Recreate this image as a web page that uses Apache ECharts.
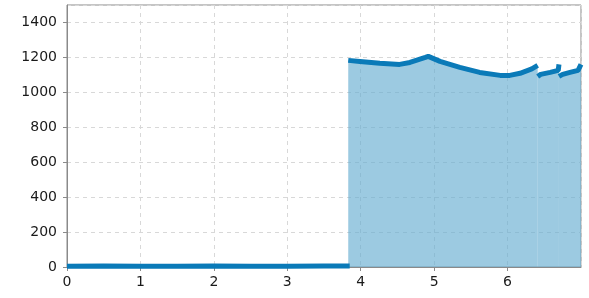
<!DOCTYPE html>
<html>
<head>
<meta charset="utf-8">
<script src="https://cdn.jsdelivr.net/npm/echarts@6/dist/echarts.min.js"></script>
<style>
  html, body { margin: 0; padding: 0; background: #fff; }
  #chart { width: 589px; height: 298px; }
</style>
</head>
<body>
<div id="chart"></div>
<script>
// segments of the trace, broken where the recording restarts
const lowX = [0, 0.5, 1, 1.5, 2, 2.5, 3, 3.5, 3.85];
const lowY = [5, 6, 5, 5, 6, 5, 5, 6, 6];

const segAX = [3.83, 3.99, 4.26, 4.53, 4.67, 4.88, 4.92, 5.08, 5.35, 5.62, 5.90, 6.03, 6.17, 6.33, 6.41];
const segAY = [1183, 1177, 1166, 1160, 1171, 1200, 1206, 1177, 1143, 1114, 1097, 1097, 1109, 1134, 1154];

const segBX = [6.41, 6.45, 6.58, 6.69, 6.70];
const segBY = [1091, 1103, 1114, 1126, 1160];

const segCX = [6.70, 6.75, 6.85, 6.96, 7.0];
const segCY = [1091, 1103, 1114, 1126, 1160];

const xTicks = [0, 1, 2, 3, 4, 5, 6];
const yTicks = [0, 200, 400, 600, 800, 1000, 1200, 1400];

const lineColor = '#0a7ab8';
const fillColor = 'rgb(100, 172, 208)';

function pairs(xs, ys) {
  return xs.map((x, i) => [x, ys[i]]);
}

function seg(xs, ys, z) {
  return {
    type: 'line',
    data: pairs(xs, ys),
    showSymbol: false,
    z: z,
    lineStyle: { color: lineColor, width: 5 },
    areaStyle: { color: fillColor, opacity: 0.64 },
    silent: true,
  };
}

const chart = echarts.init(document.getElementById('chart'));
chart.setOption({
  animation: false,
  grid: {
    left: 67, right: 8, top: 5, bottom: 31,
    show: true, borderColor: '#8a8a8a', borderWidth: 1,
  },
  xAxis: {
    type: 'value',
    min: 0, max: 7, interval: 1,
    axisLine: { show: true, lineStyle: { color: '#8a8a8a', width: 1 } },
    axisTick: { show: true, length: 4, lineStyle: { color: '#8a8a8a' } },
    axisLabel: {
      showMaxLabel: false,
      color: '#1a1a1a', fontSize: 14, fontFamily: 'DejaVu Sans', margin: 8,
      formatter: (v) => xTicks.includes(v) ? String(v) : '',
    },
    splitLine: { show: true, lineStyle: { color: '#d8d8d8', type: [4, 4] } },
  },
  yAxis: {
    type: 'value',
    min: 0, max: 1500, interval: 200,
    axisLine: { show: true, lineStyle: { color: '#8a8a8a', width: 1 } },
    axisTick: { show: true, length: 4, lineStyle: { color: '#8a8a8a' } },
    axisLabel: {
      showMaxLabel: false,
      color: '#1a1a1a', fontSize: 14, fontFamily: 'DejaVu Sans', margin: 10,
      formatter: (v) => yTicks.includes(v) ? String(v) : '',
    },
    splitLine: { show: true, lineStyle: { color: '#d8d8d8', type: [4, 4] } },
  },
  series: [
    seg(lowX, lowY, 2),
    seg(segAX, segAY, 2),
    seg(segBX, segBY, 3),
    seg(segCX, segCY, 4),
  ],
});
</script>
</body>
</html>
